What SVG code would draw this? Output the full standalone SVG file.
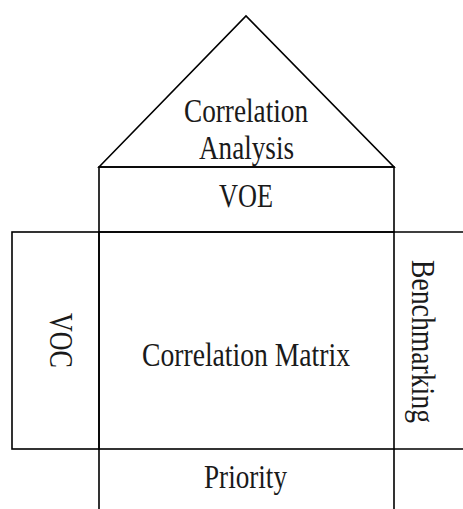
<svg xmlns="http://www.w3.org/2000/svg" width="463" height="509" viewBox="0 0 463 509">
<style>
.s{fill:none;stroke:#000;stroke-width:1.6}
.t{font-family:"Liberation Serif","Times New Roman",serif;font-size:33px;fill:#1a1a1a}
</style>
<rect width="463" height="509" fill="#fff"/>
<g id="connectors"></g>
<g id="roof">
<polygon class="s" points="99,167 246,16 394,167"/>
<text class="t" x="184" y="122" textLength="124" lengthAdjust="spacingAndGlyphs">Correlation</text>
<text class="t" x="199" y="159" textLength="95" lengthAdjust="spacingAndGlyphs">Analysis</text>
</g>
<g id="voe">
<rect class="s" x="99" y="167" width="295" height="65"/>
<text class="t" x="219" y="207" textLength="54" lengthAdjust="spacingAndGlyphs">VOE</text>
</g>
<g id="voc">
<rect class="s" x="12" y="232" width="87" height="217"/>
<text class="t" transform="translate(50,313) rotate(90)" x="0" y="0" textLength="55" lengthAdjust="spacingAndGlyphs">VOC</text>
</g>
<g id="matrix">
<rect class="s" x="99" y="232" width="295" height="217"/>
<text class="t" x="142" y="366" textLength="208" lengthAdjust="spacingAndGlyphs">Correlation Matrix</text>
</g>
<g id="benchmarking">
<path class="s" d="M394,232H463M394,449H463"/>
<text class="t" transform="translate(412,260) rotate(90)" x="0" y="0" textLength="163" lengthAdjust="spacingAndGlyphs">Benchmarking</text>
</g>
<g id="priority">
<path class="s" d="M99,449V509M394,449V509"/>
<text class="t" x="204" y="488" textLength="83" lengthAdjust="spacingAndGlyphs">Priority</text>
</g>
</svg>
